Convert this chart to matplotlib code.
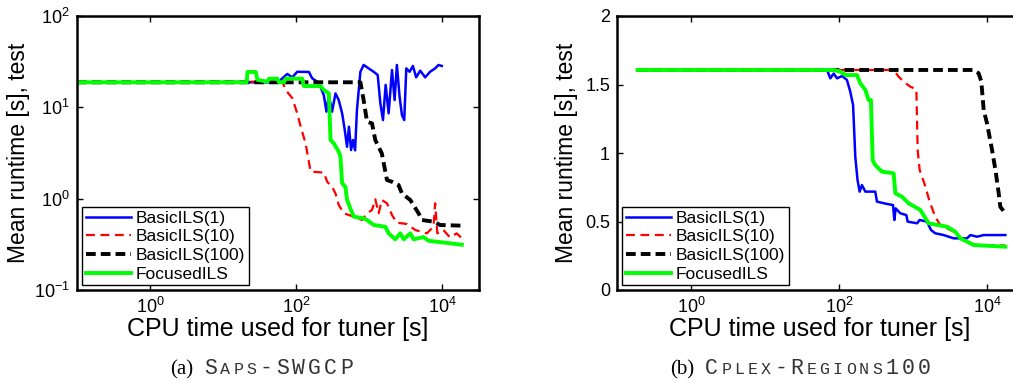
import matplotlib
matplotlib.use('Agg')

import matplotlib.pyplot as plt
from matplotlib.ticker import FixedLocator, LogFormatterMathtext

plt.rcParams['font.family'] = ['Liberation Sans', 'DejaVu Sans']
plt.rcParams['mathtext.fontset'] = 'custom'
plt.rcParams['mathtext.rm'] = 'Liberation Sans'
plt.rcParams['mathtext.it'] = 'Liberation Sans:italic'

legend_labels = ['BasicILS(1)', 'BasicILS(10)', 'BasicILS(100)', 'FocusedILS']

# ---- SAPS-SWGCP (log runtime) ----
saps_t_b1 = [0.1, 55.1, 61.1, 75.4, 88.2, 103, 149, 165, 193, 215, 238, 259, 279, 309,
             344, 381, 424, 457, 495, 526, 562, 598, 638, 676, 754, 835, 977, 1148, 1300,
             1413, 1536, 1670, 1835, 2040, 2215, 2380, 2590, 2790, 3000, 3200, 3550, 3940,
             4370, 4960, 5800, 6770, 7940, 8820, 9780]
saps_y_b1 = [18.8, 18.8, 20.0, 23.2, 21.3, 24.5, 24.4, 20.8, 19.1, 16.6, 13.6, 8.97, 13.6, 8.97,
             14.2, 12.0, 8.6, 5.89, 3.70, 6.14, 3.41, 4.39, 3.38, 9.33, 24.5, 29.1, 26.7, 24.5, 22.6,
             11.1, 7.26, 17.6, 8.6, 25.6, 12.0, 29.1, 13.1, 8.24, 7.26, 26.7, 24.5, 28.4,
             21.3, 25.2, 21.3, 24.5, 26.7, 29.1, 28.4]

saps_t_b10 = [0.1, 26.5, 64.4, 71.6, 88.2, 103, 115, 134, 157, 238, 265, 309, 344, 381, 447,
              611, 794, 929, 1087, 1205, 1340, 1480, 1740, 2040, 2380, 3260, 4240, 6110, 7540,
              7940, 8510, 10300, 12600, 15700, 18400]
saps_y_b10 = [18.8, 19.1, 19.1, 15.5, 12.6, 8.6, 6.14, 4.03, 1.98, 1.93, 1.53, 1.35, 1.14, 0.853, 0.692,
              0.635, 0.584, 0.692, 0.752, 0.984, 0.692, 0.967, 0.891, 0.662, 0.546, 0.528, 0.454, 0.417, 0.493,
              0.891, 0.417, 0.454, 0.378, 0.417, 0.368]

saps_t_b100 = [0.1, 754, 835, 929, 1087, 1205, 1480, 1740, 2040, 2510, 2790, 3630, 4710, 5230,
               7540, 9290, 18400]
saps_y_b100 = [18.8, 18.8, 12.0, 6.96, 6.68, 4.39, 3.13, 1.60, 1.53, 1.41, 1.14, 0.967, 0.692, 0.584,
               0.560, 0.515, 0.506]

saps_t_foc = [0.1, 21.0, 21.5, 27.9, 29.4, 40.3, 42.4, 55.1, 58.0, 67.9, 71.6, 121, 127, 215, 238,
              279, 294, 326, 381, 402, 424, 470, 495, 550, 611, 835, 929, 1148, 1652, 1835, 2263,
              2640, 2950, 3630, 4030, 5500, 6450, 10300, 18400]
saps_y_foc = [18.8, 18.8, 24.4, 24.4, 20.0, 19.1, 20.6, 20.6, 18.8, 18.8, 20.6, 20.6, 17.1, 17.1, 15.5,
              14.2, 4.39, 4.03, 3.27, 2.88, 1.47, 1.35, 0.967, 0.783, 0.635, 0.609, 0.584, 0.515, 0.493, 0.417, 0.359,
              0.417, 0.359, 0.417, 0.359, 0.380, 0.346, 0.331, 0.313]

# ---- CPLEX-REGIONS100 (linear runtime) ----
cplex_t_b1 = [0.19, 68.9, 76.4, 84.7, 94, 110, 128, 142, 155, 166, 178, 190, 204, 227, 309, 326,
              446, 537, 560, 583, 674, 813, 847, 1133, 1230, 1548, 1750, 1995, 2600, 3550, 5370,
              5960, 7330, 9020, 17700]
cplex_y_b1 = [1.606, 1.606, 1.545, 1.58, 1.545, 1.562, 1.533, 1.448, 1.350, 0.973, 0.803, 0.718, 0.766,
              0.718, 0.718, 0.645, 0.628, 0.620, 0.511, 0.596, 0.560, 0.547, 0.499, 0.487, 0.511, 0.499,
              0.438, 0.414, 0.401, 0.377, 0.377, 0.401, 0.389, 0.401, 0.401]

cplex_t_b10 = [0.19, 548, 640, 748, 920, 1110, 1156, 1230, 1422, 1680, 1995, 2340, 3550, 4840,
               5960, 7330, 17700]
cplex_y_b10 = [1.606, 1.606, 1.557, 1.521, 1.484, 1.465, 1.022, 0.876, 0.779, 0.645, 0.535, 0.474,
               0.426, 0.365, 0.341, 0.328, 0.325]

cplex_t_b100 = [0.19, 6610, 7710, 8380, 9020, 10000, 11700, 13000, 14400, 15100, 17700]
cplex_y_b100 = [1.606, 1.606, 1.582, 1.521, 1.314, 1.217, 1.022, 0.876, 0.706, 0.608, 0.560]

cplex_t_foc = [0.19, 84.7, 104, 122, 175, 194, 227, 251, 270, 285, 309, 380, 548, 577, 710, 872,
               1258, 1625, 2880, 3720, 4360, 5370, 6610, 17700]
cplex_y_foc = [1.606, 1.606, 1.594, 1.569, 1.569, 1.509, 1.46, 1.387, 1.387, 0.949, 0.912, 0.864,
               0.852, 0.706, 0.681, 0.633, 0.584, 0.487, 0.462, 0.426, 0.377, 0.353, 0.328, 0.316]

styles = [dict(color='#0000ff', ls='-', lw=1.8),
          dict(color='#ff0000', ls=(0, (4, 2.5)), lw=1.6),
          dict(color='#000000', ls=(0, (2.5, 1.3)), lw=2.8),
          dict(color='#00ff00', ls='-', lw=2.8)]

fig = plt.figure(figsize=(10.13, 3.81), dpi=100)
ax1 = fig.add_axes([77 / 1013, 91 / 381, 402 / 1013, 274 / 381])
ax2 = fig.add_axes([617 / 1013, 91 / 381, 407 / 1013, 274 / 381])

saps = [(saps_t_b1, saps_y_b1), (saps_t_b10, saps_y_b10),
        (saps_t_b100, saps_y_b100), (saps_t_foc, saps_y_foc)]
cplex = [(cplex_t_b1, cplex_y_b1), (cplex_t_b10, cplex_y_b10),
         (cplex_t_b100, cplex_y_b100), (cplex_t_foc, cplex_y_foc)]

for ax, series in [(ax1, saps), (ax2, cplex)]:
    for (t, y), st, lab in zip(series, styles, legend_labels):
        ax.plot(t, y, label=lab, **st)
    ax.set_xscale('log')
    ax.set_xlim(0.1, 10 ** 4.5)
    ax.xaxis.set_major_locator(FixedLocator([1, 100, 10000]))
    ax.xaxis.set_major_formatter(LogFormatterMathtext())
    ax.xaxis.set_minor_locator(FixedLocator([]))
    ax.tick_params(which='both', direction='in', top=True, right=True,
                   length=4, width=1, labelsize=13, pad=5)
    for sp in ax.spines.values():
        sp.set_linewidth(1.8)
    ax.set_xlabel('CPU time used for tuner [s]', fontsize=18)
    ax.set_ylabel('Mean runtime [s], test', fontsize=16.5)
    leg = ax.legend(loc='lower left', bbox_to_anchor=(0.013, 0.018), fontsize=12.5,
                    fancybox=False, edgecolor='black', framealpha=1,
                    handlelength=2.6, handletextpad=0.3, labelspacing=0.2,
                    borderpad=0.2, borderaxespad=0)
    leg.get_frame().set_linewidth(1.0)

ax1.set_yscale('log')
ax1.set_ylim(0.1, 100)
ax1.yaxis.set_major_locator(FixedLocator([0.1, 1, 10, 100]))
ax1.yaxis.set_minor_locator(FixedLocator([]))
ax1.xaxis.set_label_coords(0.5, -0.098)
ax1.yaxis.set_label_coords(-0.117, 0.5)

ax2.set_ylim(0, 2)
ax2.set_yticks([0, 0.5, 1, 1.5, 2])
ax2.set_yticklabels(['0', '0.5', '1', '1.5', '2'])
ax2.xaxis.set_label_coords(0.497, -0.098)
ax2.yaxis.set_label_coords(-0.096, 0.5)


def caption(x, tag, runs):
    # serif tag followed by letter-spaced small-caps typewriter name
    prev = fig.text(x, 0.018, tag, family='Liberation Serif', fontsize=15, va='baseline')
    gap = 8
    for text, size in runs:
        for ch in text:
            prev = ax1.annotate(ch, xy=(1, 0.018), xycoords=(prev, 'figure fraction'),
                                xytext=(gap, 0), textcoords='offset points',
                                family='Liberation Mono', fontsize=size, color='#333333',
                                va='baseline', ha='left', annotation_clip=False)
            gap = 2.3


big, small = 15.5, 12
caption(170 / 1013, '(a)', [('S', big), ('APS', small), ('-SWGCP', big)])
caption(670 / 1013, '(b)', [('C', big), ('PLEX', small), ('-', big), ('R', big),
                            ('EGIONS', small), ('100', big)])

plt.savefig('out.png', dpi=100)
plt.close()
